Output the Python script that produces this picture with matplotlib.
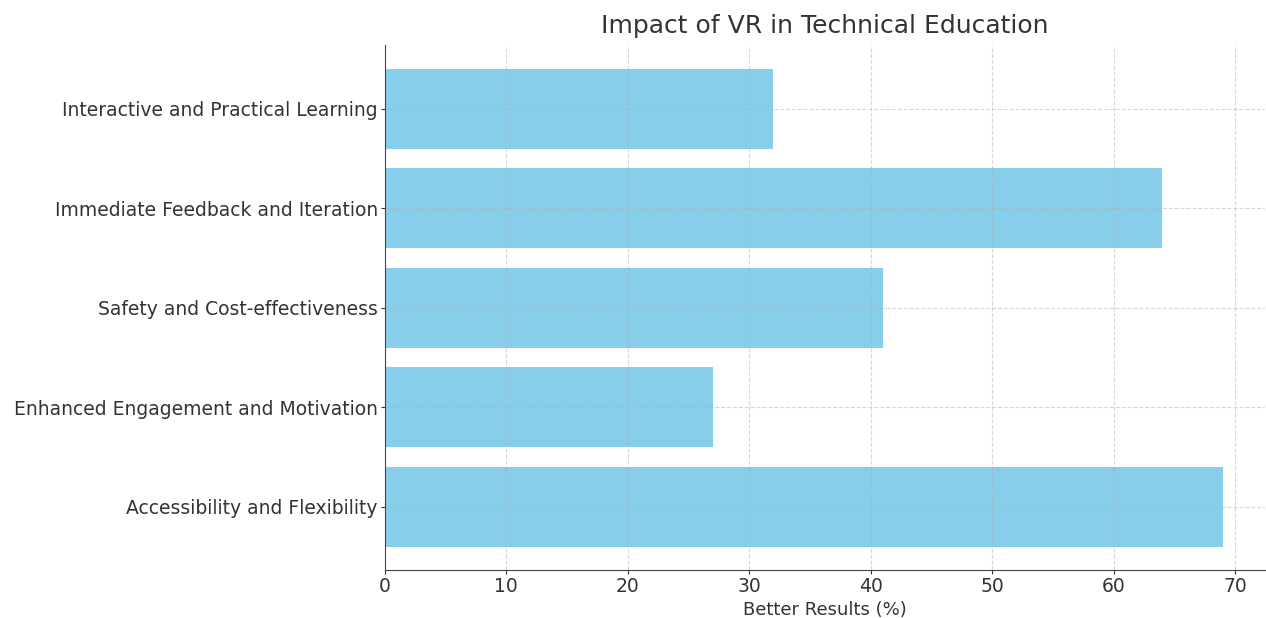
import matplotlib
matplotlib.use("Agg")
import matplotlib.pyplot as plt

categories = ["Accessibility and Flexibility",
              "Enhanced Engagement and Motivation",
              "Safety and Cost-effectiveness",
              "Immediate Feedback and Iteration",
              "Interactive and Practical Learning"]
values = [69, 27, 41, 64, 32]

plt.rcParams['font.family'] = ['DejaVu Sans']
fig = plt.figure(figsize=(12.66, 6.18), dpi=100)
ax = fig.add_axes([0.304, 0.077, 0.695, 0.85])
ax.barh(categories, values, color='skyblue', height=0.8)
ax.set_title("Impact of VR in Technical Education", fontsize=18, color='#333333', pad=9)
ax.set_xlabel("Better Results (%)", fontsize=13, color='#333333', labelpad=3)
ax.tick_params(axis='both', labelsize=13.5, colors='#333333', length=3, pad=2)
ax.grid(True, linestyle='--', alpha=0.5)
ax.spines['top'].set_visible(False)
ax.spines['right'].set_visible(False)
for s in ['left', 'bottom']:
    ax.spines[s].set_color('#444444')
fig.savefig("out.png", dpi=100)
